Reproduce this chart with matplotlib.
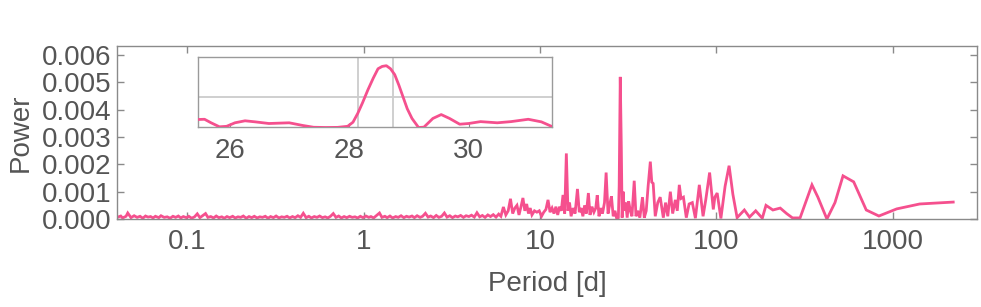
import matplotlib
matplotlib.use("Agg")
import matplotlib.pyplot as plt
from matplotlib.ticker import FixedLocator, FormatStrFormatter, NullLocator

plt.rcParams['font.family'] = ['Liberation Sans', 'DejaVu Sans']

PINK = '#f5508e'
TEXT = '#555555'
SPINE = '#8a8a8a'
GRIDC = '#cccccc'

# power values are given in units of 1e-4
SCALE = 1e-4

# short periods: noise floor of the periodogram
noise_period = [0.040, 0.042, 0.043, 0.045, 0.046, 0.048, 0.050, 0.052, 0.054, 0.056,
                0.058, 0.060, 0.062, 0.064, 0.066, 0.069, 0.071, 0.074, 0.077, 0.080,
                0.083, 0.086, 0.089, 0.092, 0.095, 0.099, 0.102, 0.106, 0.110, 0.114,
                0.118, 0.122, 0.127, 0.131, 0.136, 0.141, 0.146, 0.151, 0.157, 0.162,
                0.168, 0.174, 0.181, 0.187, 0.194, 0.201, 0.208, 0.216, 0.224, 0.232,
                0.240, 0.249, 0.258, 0.267, 0.277, 0.287, 0.297, 0.308, 0.319, 0.331,
                0.343, 0.355, 0.368, 0.381, 0.395, 0.409, 0.424, 0.439, 0.455, 0.472,
                0.489, 0.506, 0.525, 0.544, 0.563, 0.584, 0.605, 0.627, 0.649, 0.673,
                0.697, 0.722, 0.748, 0.775, 0.803, 0.832, 0.862, 0.893, 0.925, 0.958,
                0.993, 1.03, 1.07, 1.10, 1.14, 1.18, 1.23, 1.27, 1.32, 1.36,
                1.41, 1.46, 1.52, 1.57, 1.63, 1.69, 1.75, 1.81, 1.88, 1.94,
                2.01, 2.09, 2.16, 2.24, 2.32, 2.40, 2.49, 2.58, 2.67, 2.77,
                2.87, 2.97, 3.08, 3.19, 3.31, 3.42, 3.55, 3.68, 3.81, 3.95,
                4.09, 4.24, 4.39, 4.55, 4.71, 4.88, 5.06, 5.24, 5.43, 5.63, 5.83]
noise_power = [0.6, 1.1, 0.4, 1.0, 2.2, 0.5, 1.2, 0.6, 1.0, 0.3,
               1.1, 0.7, 0.9, 0.4, 1.0, 0.5, 1.2, 0.6, 0.8, 0.3,
               1.0, 0.6, 1.1, 0.4, 0.9, 0.5, 1.0, 0.3, 0.8, 1.9,
               0.5, 1.2, 2.0, 0.6, 0.9, 0.4, 1.1, 0.5, 0.8, 0.3,
               0.9, 0.5, 1.0, 0.4, 0.8, 0.6, 1.1, 0.3, 0.9, 0.5,
               1.0, 0.4, 0.8, 0.6, 1.0, 0.3, 0.9, 0.5, 1.1, 0.4,
               0.8, 0.6, 1.0, 0.4, 0.9, 0.5, 1.2, 0.6, 2.1, 0.5,
               1.0, 0.4, 0.9, 0.6, 1.1, 0.5, 0.8, 0.4, 1.0, 2.0,
               0.6, 1.1, 0.4, 0.9, 0.5, 1.0, 0.6, 0.8, 0.4, 1.0,
               0.5, 1.1, 0.6, 0.9, 0.4, 1.2, 2.2, 0.6, 1.0, 0.5,
               1.1, 0.4, 0.9, 0.6, 1.2, 0.5, 1.0, 0.7, 1.1, 0.5,
               1.2, 0.6, 1.0, 2.1, 0.7, 1.1, 0.5, 1.3, 0.6, 1.0,
               2.2, 0.7, 1.2, 0.5, 1.1, 0.8, 1.3, 0.6, 1.2, 0.9,
               1.4, 0.7, 2.3, 0.8, 1.3, 0.6, 1.5, 0.9, 1.6, 0.7, 1.8]

# longer periods: individual peaks
peak_period = [6.0, 6.2, 6.4, 6.6, 6.8, 7.0, 7.2, 7.4, 7.6, 7.8,
               8.0, 8.2, 8.4, 8.6, 8.8, 9.0, 9.3, 9.6, 9.9, 10.2,
               10.5, 10.8, 11.1, 11.4, 11.7, 12.0, 12.3, 12.6, 12.9, 13.2,
               13.5, 13.8, 14.1, 14.4, 14.7, 15.0, 15.4, 15.8, 16.3, 16.7,
               17.1, 17.5, 17.9, 18.3, 18.8, 19.2, 19.7, 20.2, 20.7, 21.1,
               21.6, 22.1, 22.6, 23.2, 23.7, 24.3, 24.8, 25.4, 26.0, 26.6,
               27.2, 27.8, 28.1, 28.5, 28.9, 29.2, 29.6, 30.0, 30.6, 31.2,
               31.8, 32.5, 33.2, 34.2, 35.0, 35.8, 36.8, 38.1, 39.0, 40.0,
               41.0, 42.2, 43.0, 43.8, 45.0, 46.5, 48.0, 50.0, 51.5, 53.0,
               54.8, 56.5, 58.5, 60.0, 61.6, 63.0, 65.0, 67.5, 70.0, 73.0,
               76.0, 80.0, 84.0, 87.0, 91.5, 96.0, 98.0, 101.0, 106.0, 112.0,
               118.0, 124.0, 131.0, 140.0, 144.0, 154.0, 167.0, 182.0, 191.0, 209.0,
               230.0, 250.0, 270.0, 298.0, 348.0, 376.0, 423.0, 470.0, 522.0, 600.0,
               707.0, 834.0, 1052.0, 1420.0, 2200.0]
peak_power = [1.0, 4.4, 1.5, 3.0, 7.4, 2.0, 4.0, 5.0, 1.5, 4.5,
              7.7, 3.0, 5.5, 2.0, 4.0, 1.5, 3.0, 2.5, 3.0, 1.0,
              2.5, 3.5, 7.0, 2.5, 4.0, 2.0, 4.5, 1.5, 4.5, 3.0,
              8.8, 2.0, 24.0, 3.0, 6.0, 1.0, 4.0, 2.0, 11.0, 2.5,
              4.0, 1.0, 5.0, 2.0, 9.5, 1.5, 4.5, 2.5, 4.0, 8.7,
              1.0, 4.0, 2.0, 6.0, 17.0, 2.0, 5.0, 8.3, 1.0, 3.0,
              0.2, 0.5, 12.0, 52.0, 26.0, 0.5, 10.0, 3.0, 6.0, 0.5,
              6.5, 3.0, 1.0, 14.0, 1.0, 3.0, 0.5, 8.0, 0.5, 3.0,
              12.0, 21.0, 13.5, 13.0, 1.0, 6.0, 8.0, 0.5, 6.0, 1.0,
              10.0, 2.0, 7.0, 3.0, 12.5, 7.5, 8.0, 0.5, 5.5, 6.0,
              0.3, 12.5, 1.0, 7.0, 17.0, 3.5, 8.0, 9.5, 0.2, 12.0,
              19.5, 9.0, 0.5, 2.5, 3.3, 0.7, 3.0, 0.3, 5.0, 3.3,
              4.0, 2.0, 0.4, 0.4, 12.5, 8.0, 0.0, 6.0, 15.8, 13.6,
              3.3, 1.1, 3.7, 5.5, 6.2]

# zoom on the main peak
zoom_period = [25.40, 25.46, 25.57, 25.68, 25.82, 25.94, 26.08, 26.25, 26.42, 26.65,
               26.99, 27.22, 27.40, 27.60, 27.80, 27.97, 28.06, 28.14, 28.22, 28.31,
               28.40, 28.48, 28.55, 28.62, 28.69, 28.76, 28.83, 28.90, 28.97, 29.05,
               29.16, 29.25, 29.40, 29.54, 29.68, 29.85, 30.00, 30.20, 30.48, 30.71,
               31.00, 31.22, 31.39, 31.55]
zoom_power = [6.0, 6.8, 7.0, 4.0, 0.6, 1.0, 4.0, 5.7, 4.8, 3.4,
              4.0, 1.7, 0.2, 0.0, 0.1, 1.0, 4.5, 12.0, 21.0, 32.0,
              42.0, 50.0, 52.0, 52.6, 50.0, 45.0, 36.0, 26.0, 16.0, 7.7,
              0.0, 0.3, 7.7, 11.0, 7.7, 2.8, 3.4, 5.0, 4.0, 5.0,
              7.0, 4.8, 1.0, 1.0]
half_max = 26.3
half_width = [28.14, 28.73]

periods = noise_period + peak_period
powers = [p * SCALE for p in noise_power + peak_power]

fig = plt.figure(figsize=(9.81, 3.07), dpi=100)
ax = fig.add_axes([0.1193, 0.2866, 0.8766, 0.5635])
ax.plot(periods, powers, color=PINK, lw=2.0, solid_joinstyle='miter')
ax.set_xscale('log')
ax.set_xlim(0.04, 3000)
ax.set_ylim(0, 0.00633)
ax.xaxis.set_major_locator(FixedLocator([0.1, 1, 10, 100, 1000]))
ax.xaxis.set_minor_locator(NullLocator())
ax.set_xticklabels(['0.1', '1', '10', '100', '1000'])
ax.set_yticks([0, 0.001, 0.002, 0.003, 0.004, 0.005, 0.006])
ax.yaxis.set_major_formatter(FormatStrFormatter('%.3f'))
ax.tick_params(axis='both', which='both', direction='in', length=5, width=1,
               color=SPINE, labelsize=20, labelcolor=TEXT,
               top=True, right=True)
ax.tick_params(axis='x', pad=7)
ax.tick_params(axis='y', pad=4)
for s in ax.spines.values():
    s.set_color(SPINE)
    s.set_linewidth(1)
ax.set_xlabel('Period [d]', fontsize=20, color=TEXT, labelpad=12)
ax.set_ylabel('Power', fontsize=20, color=TEXT, labelpad=6)

# inset
axi = fig.add_axes([0.2018, 0.5847, 0.361, 0.2296])
for x in half_width:
    axi.axvline(x, color=GRIDC, lw=1.3, zorder=1)
axi.axhline(half_max * SCALE, color=GRIDC, lw=1.3, zorder=1)
axi.plot(zoom_period, [p * SCALE for p in zoom_power], color=PINK, lw=2.0, zorder=3)
axi.set_xlim(25.46, 31.4)
axi.set_ylim(0, 0.006)
axi.set_xticks([26, 28, 30])
axi.set_yticks([])
axi.tick_params(axis='x', direction='in', length=3, color=SPINE,
                labelsize=20, labelcolor=TEXT, pad=7.5)
for s in axi.spines.values():
    s.set_color('#9a9a9a')
    s.set_linewidth(1)

fig.savefig('out.png', dpi=100)
